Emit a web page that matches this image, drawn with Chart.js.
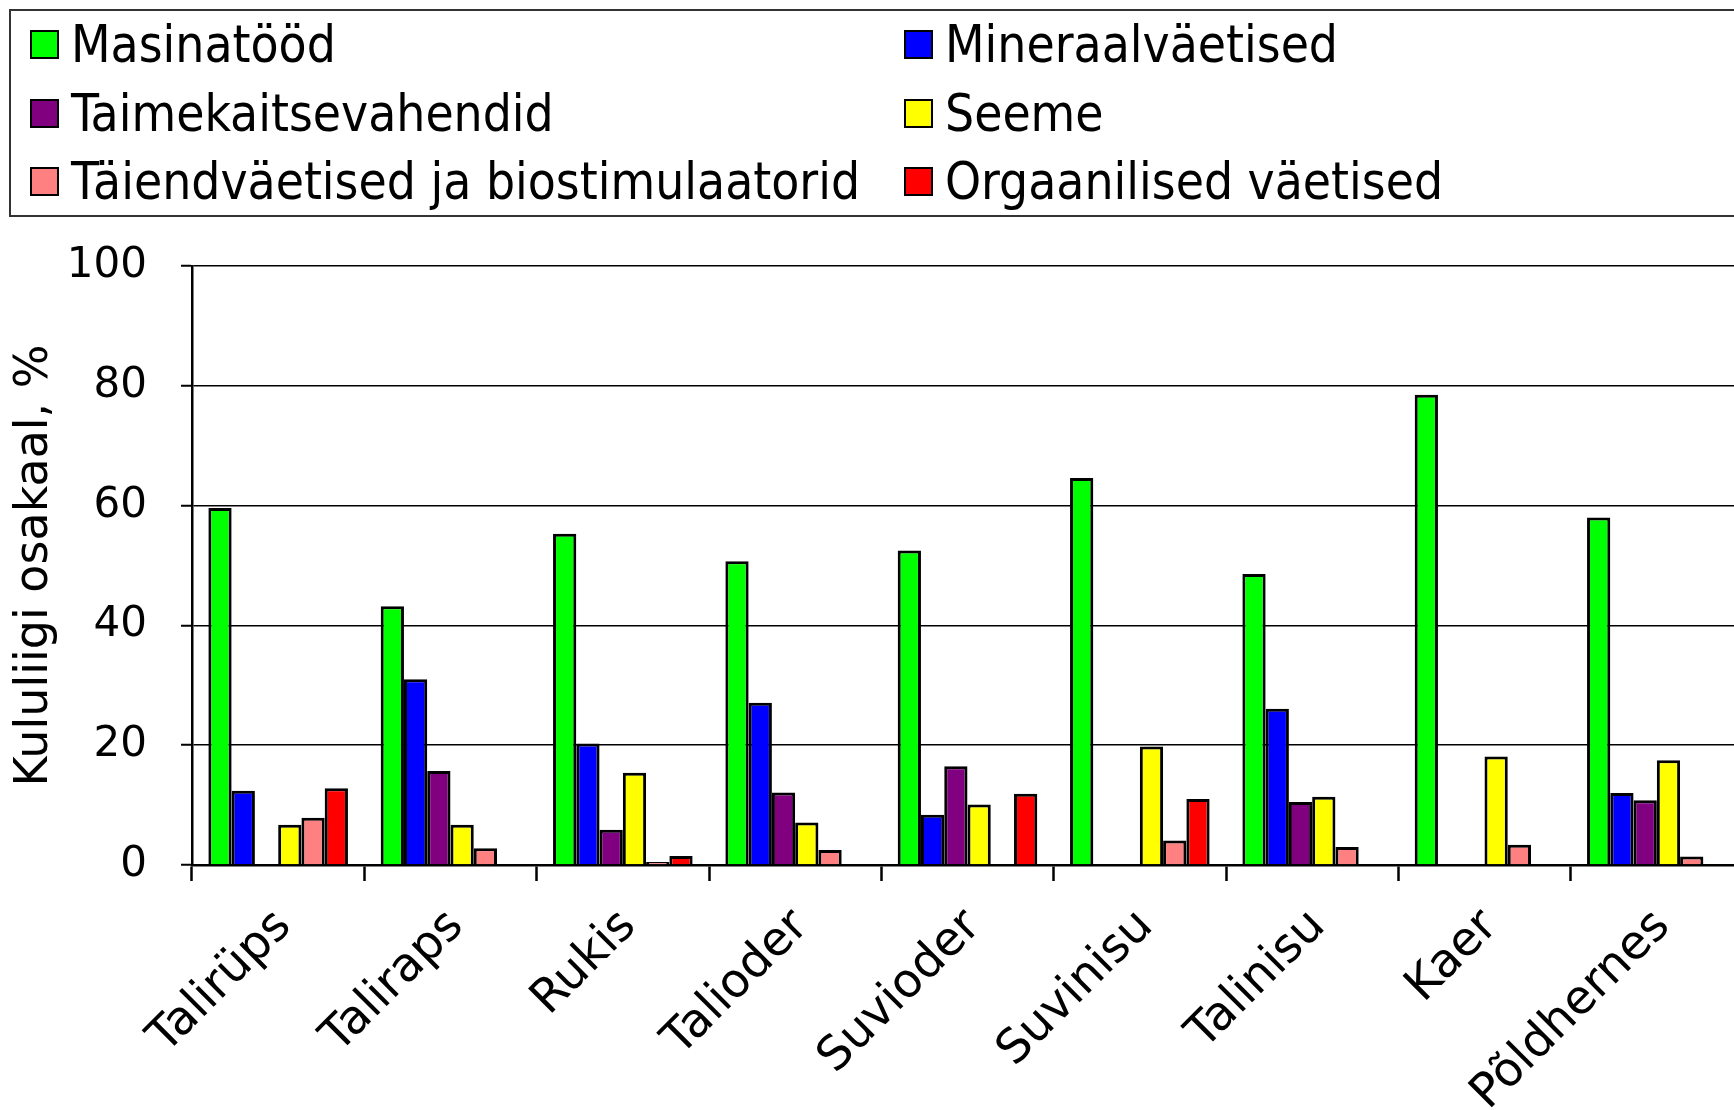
<!DOCTYPE html>
<html>
<head>
<meta charset="utf-8">
<script src="https://cdn.jsdelivr.net/npm/chart.js@4.4.1/dist/chart.umd.min.js"></script>
<style>
  html, body { margin: 0; padding: 0; background: #fff; overflow: hidden; }
  #wrap { position: relative; width: 1760px; height: 1110px; }
  #chart { position: absolute; left: 0; top: 0; }
  #legend {
    position: absolute; left: 9px; top: 9px; width: 1800px; height: 208px;
    border: 2px solid #333; box-sizing: border-box;
    font-family: "DejaVu Sans Condensed", "DejaVu Sans", sans-serif;
    font-size: 51px; color: #000;
  }
  .item { position: absolute; display: flex; align-items: center; white-space: nowrap; }
  .sw { width: 25px; height: 25px; border: 2px solid #000; margin-right: 12px; flex: none; }
</style>
</head>
<body>
<div id="wrap">
  <canvas id="chart" width="1760" height="1110"></canvas>
  <div id="legend"></div>
</div>
<script>
// kultuurid
const kultuurid = ['Talirüps', 'Taliraps', 'Rukis', 'Talioder', 'Suvioder', 'Suvinisu', 'Talinisu', 'Kaer', 'Põldhernes'];

// kululiigid, %
const masinatood = [59.6, 43.2, 55.3, 50.7, 52.5, 64.6, 48.6, 78.5, 58.0];
const mineraalvaetised = [12.4, 31.0, 20.3, 27.1, 8.4, null, 26.1, null, 12.0];
const taimekaitse = [null, 15.7, 5.9, 12.1, 16.5, null, 10.5, null, 10.8];
const seeme = [6.7, 6.7, 15.4, 7.1, 10.1, 19.8, 11.4, 18.1, 17.5];
const taiendvaetised = [7.9, 2.8, 0.5, 2.5, null, 4.1, 3.0, 3.4, 1.4];
const orgaanilised = [12.8, null, 1.5, null, 11.9, 11.0, null, null, null];

const yTicks = [0, 20, 40, 60, 80, 100];

const seeriad = [
  { label: 'Masinatööd', data: masinatood, color: '#00ff00' },
  { label: 'Mineraalväetised', data: mineraalvaetised, color: '#0000ff' },
  { label: 'Taimekaitsevahendid', data: taimekaitse, color: '#800080' },
  { label: 'Seeme', data: seeme, color: '#ffff00' },
  { label: 'Täiendväetised ja biostimulaatorid', data: taiendvaetised, color: '#ff8080' },
  { label: 'Orgaanilised väetised', data: orgaanilised, color: '#ff0000' }
];

const ctx = document.getElementById('chart').getContext('2d');
const chart = new Chart(ctx, {
  type: 'bar',
  data: {
    labels: kultuurid,
    datasets: seeriad.map(s => ({
      label: s.label,
      data: s.data,
      backgroundColor: s.color,
      borderColor: '#000',
      borderWidth: 3,
      borderSkipped: 'bottom',
      categoryPercentage: 0.81,
      barPercentage: 1.0
    }))
  },
  options: {
    responsive: false,
    animation: false,
    layout: { padding: { top: 266, right: 17, left: 0, bottom: 0 } },
    plugins: {
      legend: { display: false },
      tooltip: { enabled: false }
    },
    scales: {
      x: {
        offset: true,
        afterFit: (scale) => { scale.height = 245; },
        grid: {
          offset: true,
          drawOnChartArea: false,
          drawTicks: true,
          tickLength: 16,
          tickWidth: 2.5,
          tickColor: '#000'
        },
        border: { color: '#000', width: 2.5 },
        ticks: {
          font: { family: 'DejaVu Sans', size: 47 },
          color: '#000',
          minRotation: 45,
          maxRotation: 45,
          autoSkip: false,
          padding: 18,
          labelOffset: 6
        }
      },
      y: {
        min: 0,
        max: 100,
        afterFit: (scale) => { scale.width = 192; },
        afterBuildTicks: (scale) => { scale.ticks = yTicks.map(v => ({ value: v })); },
        grid: {
          color: '#000',
          lineWidth: 1.5,
          tickLength: 11,
          tickWidth: 2,
          tickColor: '#000'
        },
        border: { color: '#000', width: 2.5 },
        ticks: {
          font: { family: 'DejaVu Sans', size: 42 },
          color: '#000',
          padding: 34
        },
        title: {
          display: true,
          text: 'Kululiigi osakaal, %',
          font: { family: 'DejaVu Sans', size: 46 },
          color: '#000',
          padding: { top: 7, bottom: 0 }
        }
      }
    }
  }
});

// legend kahes veerus
const legendEl = document.getElementById('legend');
const colX = [19, 893];
const rowY = [33, 102, 170];
seeriad.forEach((s, i) => {
  const el = document.createElement('div');
  el.className = 'item';
  el.style.left = colX[i % 2] + 'px';
  el.style.top = (rowY[Math.floor(i / 2)] - 30) + 'px';
  el.style.height = '60px';
  el.innerHTML = '<div class="sw" style="background:' + s.color + '"></div><span>' + s.label + '</span>';
  legendEl.appendChild(el);
});
</script>
</body>
</html>
